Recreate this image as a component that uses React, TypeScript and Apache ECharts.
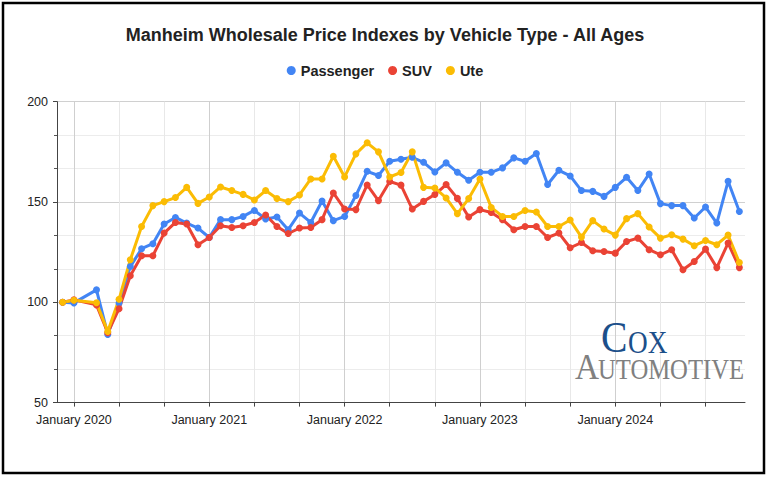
import React, { useEffect, useRef } from "react";
import * as echarts from "echarts";

const MONTHS = ["January", "February", "March", "April", "May", "June", "July", "August", "September", "October", "November", "December"];
const YEARS = [2020, 2021, 2022, 2023, 2024];
const categories: string[] = ["December 2019", ...YEARS.flatMap((y) => MONTHS.map((m) => `${m} ${y}`))];

const seriesNames = ["Passenger", "SUV", "Ute"];

const passenger = [100, 99.7, null, 106.2, 84, 99.6, 117.8, 126.7, 129.2, 139,
  142.3, 139.5, 137, 132.3, 141.2, 141.2, 142.8, 145.8, 141.5, 142.5,
  136.2, 144.5, 139.8, 150.5, 140.7, 142.8, 153.2, 165.3, 163.2, 170.3,
  171.3, 172.3, 169.8, 165, 169.5, 164.8, 160.8, 164.8, 164.8, 167,
  172, 170.3, 174.2, 158.7, 165.8, 163, 155.7, 155.3, 152.8, 157.3,
  162.3, 155.7, 164, 149.2, 148.2, 148.2, 142, 147.5, 139.5, 160.3,
  145.3];

const suv = [100, 101.2, null, 98.7, 84.8, 96.8, 113.2, 123.2, 123.2, 134.5,
  139.8, 139, 128.7, 132.3, 138.2, 137.3, 138.2, 139.8, 143.5, 137.8,
  134.3, 137, 137.3, 141.2, 154.5, 146.5, 146.2, 158.5, 150.7, 160.2,
  158.4, 146.5, 150.3, 153.7, 158.7, 151.8, 142.5, 146.2, 144.8, 141.2,
  136.2, 137.8, 137.8, 132.3, 134.5, 127.2, 129.8, 125.7, 125.3, 124.5,
  130.3, 132, 126.2, 123.7, 126.2, 116.2, 120.3, 126.5, 117.3, 129.5,
  117.3];

const ute = [100, 101, null, 99.8, 85.5, 101.5, 121.2, 137.8, 148.2, 150.2,
  152.2, 157.3, 149.3, 152.5, 157.5, 155.7, 153.8, 151, 155.7, 151.7,
  150.2, 153.5, 161.5, 161.5, 172.8, 162.5, 174, 179.5, 175, 162.5,
  164.7, 175, 157.3, 157, 152, 144.2, 151.7, 161.5, 147.3, 142.8,
  142.8, 145.8, 145, 137.8, 137.8, 141, 132.5, 140.7, 136.5, 133.5,
  141.7, 144.2, 137.5, 132, 133.7, 131.5, 128.2, 130.8, 128.7, 133.5,
  119.8];

const COLORS = ["#4285F4", "#EA4335", "#FBBC04"];
const FONT = "'Liberation Sans', Arial, sans-serif";
const SERIF = "'Liberation Serif', 'Times New Roman', serif";

export default function App() {
  const ref = useRef<HTMLDivElement>(null);
  useEffect(() => {
    if (!ref.current) return;
    const chart = echarts.init(ref.current, undefined, { renderer: "svg" });
    const mk = (name: string, data: (number | null)[], color: string) => ({
      name,
      type: "line",
      data,
      connectNulls: true,
      symbol: "circle",
      symbolSize: 7,
      showSymbol: true,
      itemStyle: { color },
      lineStyle: { color, width: 3 },
    });
    chart.setOption({
      animation: false,
      backgroundColor: "#fff",
      textStyle: { fontFamily: FONT },
      title: {
        text: "Manheim Wholesale Price Indexes by Vehicle Type - All Ages",
        left: "center",
        top: 21,
        textStyle: { fontSize: 18, fontWeight: "bold", color: "#222", fontFamily: FONT },
      },
      legend: {
        data: seriesNames,
        top: 58,
        left: "center",
        icon: "circle",
        itemWidth: 9,
        itemHeight: 9,
        itemGap: 14,
        textStyle: { fontSize: 14.5, fontWeight: "bold", color: "#222", fontFamily: FONT },
      },
      grid: { left: 57, right: 25, top: 101.7, bottom: 74.4, containLabel: false },
      xAxis: {
        type: "category",
        data: categories,
        boundaryGap: true,
        axisLine: { show: true, lineStyle: { color: "#444", width: 1 } },
        axisTick: {
          show: true,
          alignWithLabel: true,
          length: 4,
          interval: (i: number) => i % 4 === 1,
          lineStyle: { color: "#444" },
        },
        axisLabel: {
          interval: (i: number) => i % 12 === 1,
          color: "#222",
          fontSize: 12.5,
          margin: 11,
          fontFamily: FONT,
        },
        splitLine: {
          show: true,
          alignWithLabel: true,
          interval: (i: number) => i % 4 === 1,
          lineStyle: { color: ["#cfcfcf", "#e8e8e8", "#e8e8e8"], width: 1 },
        },
      },
      yAxis: {
        type: "value",
        min: 50,
        max: 200,
        interval: 50,
        axisLine: { show: true, lineStyle: { color: "#444", width: 1 } },
        axisTick: { show: true, length: 4, lineStyle: { color: "#444" } },
        minorTick: { show: true, splitNumber: 3, length: 3, lineStyle: { color: "#555" } },
        axisLabel: { color: "#222", fontSize: 12.5, margin: 9, fontFamily: FONT },
        splitLine: { show: true, lineStyle: { color: "#d0d0d0", width: 1 } },
        minorSplitLine: { show: true, lineStyle: { color: "#ececec", width: 1 } },
      },
      series: [
        mk(seriesNames[0], passenger, COLORS[0]),
        mk(seriesNames[1], suv, COLORS[1]),
        mk(seriesNames[2], ute, COLORS[2]),
      ],
      graphic: [
        {
          type: "rect",
          shape: { x: 3, y: 3, width: 761, height: 470 },
          style: { fill: "none", stroke: "#000", lineWidth: 2.5 },
          silent: true,
          z: 100,
        },
        {
          type: "text",
          x: 601,
          y: 337.7,
          scaleX: 0.9,
          style: { text: "C", font: `44px ${SERIF}`, fill: "#1c4f8a", textAlign: "left", textVerticalAlign: "middle" },
          z: 100,
        },
        {
          type: "text",
          x: 628,
          y: 342.2,
          scaleX: 0.88,
          style: { text: "OX", font: `31px ${SERIF}`, fill: "#1c4f8a", textAlign: "left", textVerticalAlign: "middle" },
          z: 100,
        },
        {
          type: "text",
          x: 575,
          y: 367.1,
          scaleX: 0.95,
          style: { text: "A", font: `35px ${SERIF}`, fill: "#808080", textAlign: "left", textVerticalAlign: "middle" },
          z: 100,
        },
        {
          type: "text",
          x: 598,
          y: 369.1,
          scaleX: 0.85,
          style: { text: "UTOMOTIVE", font: `29px ${SERIF}`, fill: "#808080", textAlign: "left", textVerticalAlign: "middle" },
          z: 100,
        },
      ],
    });
    return () => chart.dispose();
  }, []);
  return <div ref={ref} style={{ position: "fixed", left: 0, top: 0, width: 770, height: 477 }} />;
}
